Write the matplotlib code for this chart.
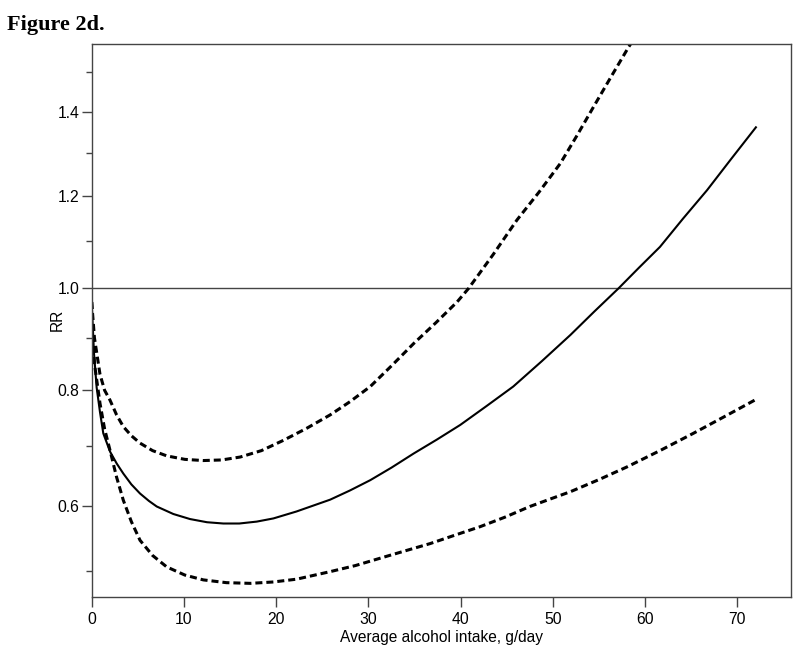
import numpy as np
import matplotlib
matplotlib.use("Agg")
import matplotlib.pyplot as plt
from matplotlib.ticker import FixedLocator, FixedFormatter

# Values (x = g/day, y = RR)
rr_x = [0, 0.25, 0.54, 0.9, 1.26, 2.0, 2.71, 3.43, 4.3, 5.24, 6.2, 7.05, 8.85,
        10.66, 12.5, 14.27, 16, 17.9, 19.7, 22.2, 25.85, 28, 30.2, 32.5, 34.9,
        37.4, 39.95, 42.8, 45.7, 48.8, 51.9, 54.5, 57.1, 59.3, 61.6, 64.1,
        66.7, 69.3, 72]
rr_y = [0.972, 0.87, 0.805, 0.76, 0.722, 0.69, 0.670, 0.653, 0.635, 0.620,
        0.608, 0.599, 0.587, 0.579, 0.574, 0.572, 0.572, 0.575, 0.580, 0.591,
        0.610, 0.625, 0.642, 0.663, 0.687, 0.711, 0.737, 0.771, 0.807, 0.855,
        0.906, 0.953, 1.0, 1.043, 1.088, 1.150, 1.214, 1.286, 1.362]

upper_x = [0, 0.3, 0.9, 1.4, 1.98, 2.7, 3.43, 4.3, 5.24, 6.6, 8.13, 10.1,
           12.1, 14.1, 16.1, 18.4, 20.8, 23.3, 25.85, 28, 30.2, 32.5, 34.9,
           37.3, 39.6, 40.85, 43.5, 46.1, 48.5, 50.8, 52.6, 54.4, 56.3, 58.2, 60]
upper_y = [0.972, 0.90, 0.830, 0.80, 0.782, 0.755, 0.734, 0.718, 0.705, 0.692,
           0.683, 0.677, 0.675, 0.676, 0.681, 0.692, 0.710, 0.731, 0.755, 0.779,
           0.807, 0.846, 0.889, 0.930, 0.972, 1.0, 1.071, 1.147, 1.210, 1.276,
           1.342, 1.412, 1.487, 1.563, 1.63]

lower_x = [0, 0.3, 0.9, 1.4, 1.98, 2.7, 3.43, 4.3, 5.24, 6.6, 8.13, 10.1,
           12.1, 14.6, 17.2, 19.7, 22.2, 25.85, 28.6, 31.3, 34, 36.7, 39.4,
           42.1, 44.8, 47.5, 49.7, 51.9, 55, 58.0, 61.6, 65.2, 68.6, 72]
lower_y = [0.972, 0.85, 0.776, 0.73, 0.693, 0.647, 0.609, 0.575, 0.546, 0.523,
           0.506, 0.494, 0.487, 0.483, 0.482, 0.484, 0.488, 0.499, 0.508, 0.519,
           0.530, 0.541, 0.554, 0.567, 0.582, 0.599, 0.611, 0.623, 0.643, 0.664,
           0.692, 0.722, 0.752, 0.783]

x_ticks = [0, 10, 20, 30, 40, 50, 60, 70]
y_major = [0.6, 0.8, 1.0, 1.2, 1.4]
y_minor = [0.5, 0.7, 0.9, 1.1, 1.3, 1.5]

plt.rcParams['font.family'] = ['Liberation Sans', 'DejaVu Sans']

fig = plt.figure(figsize=(8, 6.61), dpi=100)
ax = fig.add_axes([0.1146, 0.0973, 0.8741, 0.8361])

# the y axis of the original is square-root spaced
ax.set_yscale('function', functions=(lambda v: np.sqrt(np.clip(v, 0, None)), np.square))

spine_col = '#444444'
ax.axhline(1.0, color=spine_col, lw=1.0, zorder=1)
ax.plot(rr_x, rr_y, color='black', lw=1.5, solid_joinstyle='round')
ax.plot(upper_x, upper_y, color='black', lw=2.2, dashes=(2.3, 1.3))
ax.plot(lower_x, lower_y, color='black', lw=2.2, dashes=(2.3, 1.3))

ax.set_xlim(0, 75.8)
ax.set_ylim(0.463, 1.571)

ax.set_xticks(x_ticks)
ax.yaxis.set_major_locator(FixedLocator(y_major))
ax.yaxis.set_major_formatter(FixedFormatter([f"{v:.1f}" for v in y_major]))
ax.yaxis.set_minor_locator(FixedLocator(y_minor))
ax.yaxis.set_minor_formatter(FixedFormatter([]))

ax.tick_params(axis='x', direction='out', length=7, width=1, color=spine_col,
               labelsize=11.3, pad=4)
ax.tick_params(axis='y', which='major', direction='out', length=7.5, width=1,
               color=spine_col, labelsize=11.3, pad=1.5)
ax.tick_params(axis='y', which='minor', direction='out', length=4, width=1,
               color=spine_col)

for s in ax.spines.values():
    s.set_color(spine_col)
    s.set_linewidth(1.0)

ax.set_xlabel("Average alcohol intake, g/day", fontsize=11.2, labelpad=2)
ax.set_ylabel("RR", fontsize=11.2)
ax.yaxis.set_label_coords(-0.039, 0.5)

fig.text(0.009, 0.978, "Figure 2d.", fontsize=16, fontweight='bold',
         family=['Liberation Serif', 'DejaVu Serif'], va='top', ha='left')

fig.savefig("out.png", dpi=100)
